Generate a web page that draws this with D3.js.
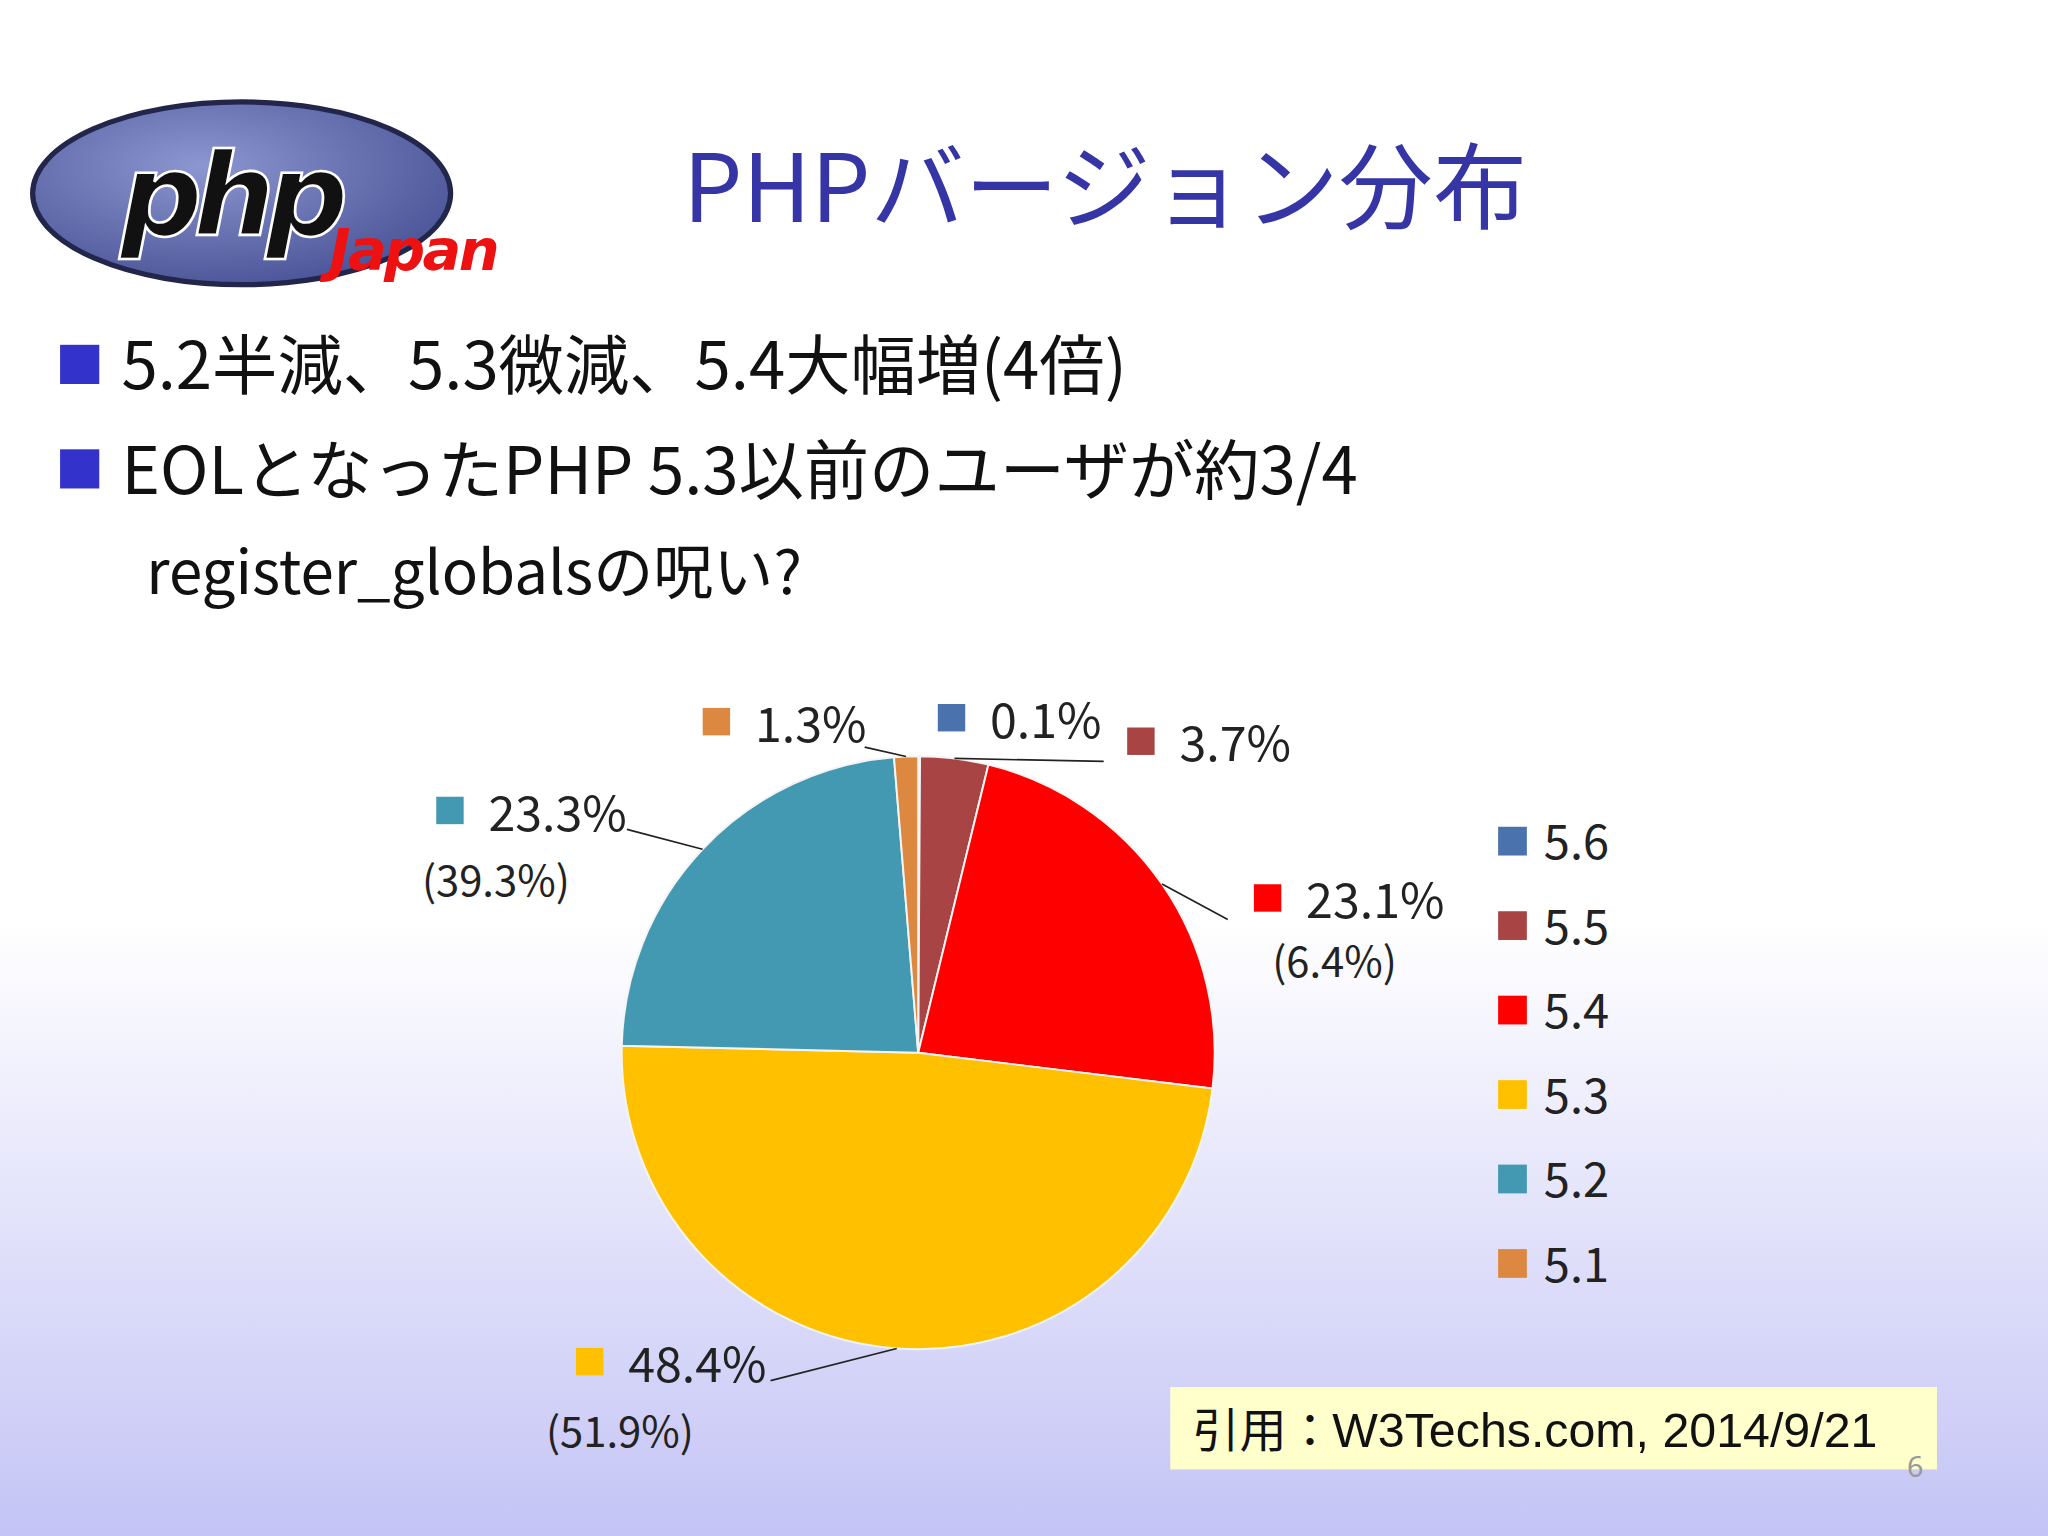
<!DOCTYPE html>
<meta charset="utf-8">
<script src="https://d3js.org/d3.v7.min.js"></script>
<style>body{margin:0;overflow:hidden}</style>
<svg id="chart" width="2048" height="1536" viewBox="0 0 1568 1176"></svg>
<script>
  const versions = ["5.6", "5.5", "5.4", "5.3", "5.2", "5.1"];
  const shares = [0.1, 3.7, 23.1, 48.4, 23.3, 1.3];
  const previous = [null, null, "(6.4%)", "(51.9%)", "(39.3%)", null];
  const colors = ["#4a72ac", "#a84444", "#ff0000", "#ffc000", "#4299b1", "#dd8840"];
  // label anchor (square left, top) and leader end
  const labelPos = [[718, 539], [863, 557], [960, 677], [441, 1032], [334, 610], [538, 542]];
  const leaderEnd = [null, [845, 583], [940, 704], [590, 1057], [480, 635], [662, 572]];
  const subPos = [null, null, [974, 748], [418, 1108], [323, 686], null];

  const svg = d3.select("#chart");
  const defs = svg.append("defs");
  const bg = defs.append("linearGradient").attr("id", "bg").attr("x1", 0).attr("x2", 0).attr("y1", 0).attr("y2", 1);
  bg.append("stop").attr("offset", "0.6").attr("stop-color", "#ffffff");
  bg.append("stop").attr("offset", "1").attr("stop-color", "#c4c4f6");
  svg.append("rect").attr("width", 1568).attr("height", 1176).attr("fill", "url(#bg)");

  // logo
  const lg = defs.append("radialGradient").attr("id", "logo").attr("cx", "40%").attr("cy", "35%").attr("r", "70%");
  lg.append("stop").attr("offset", 0).attr("stop-color", "#8c96d0");
  lg.append("stop").attr("offset", 1).attr("stop-color", "#4a5396");
  svg.append("ellipse").attr("cx", 185).attr("cy", 148).attr("rx", 160).attr("ry", 70)
    .attr("fill", "url(#logo)").attr("stroke", "#22264a").attr("stroke-width", 4);
  svg.append("text").attr("x", 92).attr("y", 180).attr("font-family", "DejaVu Sans")
    .attr("font-weight", "bold").attr("font-style", "italic").attr("font-size", 88)
    .attr("fill", "#111").attr("stroke", "#fff").attr("stroke-width", 2).attr("letter-spacing", -7).text("php");
  svg.append("text").attr("x", 252).attr("y", 207).attr("font-family", "DejaVu Sans")
    .attr("font-weight", "bold").attr("font-style", "italic").attr("font-size", 44)
    .attr("fill", "#ee1111").attr("letter-spacing", -2).text("Japan");

  svg.append("text").attr("x", 523).attr("y", 170).attr("font-family", "Noto Sans CJK JP")
    .attr("font-size", 72).attr("fill", "#3535a5").text("PHPバージョン分布");

  const bullets = [["5.2半減、5.3微減、5.4大幅増(4倍)", 298], ["EOLとなったPHP 5.3以前のユーザが約3/4", 378]];
  bullets.forEach(([t, y]) => {
    svg.append("rect").attr("x", 46).attr("y", y - 34).attr("width", 30).attr("height", 30).attr("fill", "#3333cc");
    svg.append("text").attr("x", 93).attr("y", y).attr("font-family", "Noto Sans CJK JP")
      .attr("font-size", 50).attr("fill", "#111").text(t);
  });
  svg.append("text").attr("x", 112).attr("y", 455).attr("font-family", "Noto Sans CJK JP")
    .attr("font-size", 46).attr("fill", "#111").text("register_globalsの呪い?");

  // pie
  const cx = 703, cy = 806, r = 227;
  const data = versions.map((v, i) => ({ v, s: shares[i], i }));
  const arcs = d3.pie().sort(null).value(d => d.s)(data);
  const arc = d3.arc().innerRadius(0).outerRadius(r);
  const g = svg.append("g").attr("transform", `translate(${cx},${cy})`);
  g.selectAll("path").data(arcs).join("path").attr("d", arc)
    .attr("fill", d => colors[d.data.i]).attr("stroke", "#f4f4f4").attr("stroke-width", 1.5);
  const edge = d3.arc().innerRadius(r).outerRadius(r);
  arcs.forEach(a => {
    const i = a.data.i;
    const e = leaderEnd[i];
    if (e) {
      const [px, py] = edge.centroid(a);
      svg.append("line").attr("x1", px + cx).attr("y1", py + cy).attr("x2", e[0]).attr("y2", e[1])
        .attr("stroke", "#222").attr("stroke-width", 1.3);
    }
    const [lx, ly] = labelPos[i];
    svg.append("rect").attr("x", lx).attr("y", ly).attr("width", 21).attr("height", 21).attr("fill", colors[i]);
    svg.append("text").attr("x", lx + 40).attr("y", ly + 26).attr("font-family", "Noto Sans CJK JP")
      .attr("font-size", 37).attr("fill", "#222").text(shares[i] + "%");
    if (subPos[i]) {
      svg.append("text").attr("x", subPos[i][0]).attr("y", subPos[i][1]).attr("font-family", "Noto Sans CJK JP")
        .attr("font-size", 32).attr("fill", "#222").text(previous[i]);
    }
  });

  // legend
  const ly = d3.scaleBand().domain(versions).range([630, 1018]);
  versions.forEach((v, i) => {
    const y = ly(v);
    svg.append("rect").attr("x", 1147).attr("y", y + 3).attr("width", 22).attr("height", 22).attr("fill", colors[i]);
    svg.append("text").attr("x", 1182).attr("y", y + 28).attr("font-family", "Noto Sans CJK JP")
      .attr("font-size", 36).attr("fill", "#222").text(v);
  });

  // citation
  svg.append("rect").attr("x", 896).attr("y", 1062).attr("width", 587).attr("height", 63).attr("fill", "#ffffcc");
  svg.append("text").attr("x", 913).attr("y", 1108).attr("font-family", "Noto Sans CJK JP")
    .attr("font-size", 36).attr("fill", "#111").text("引用：");
  svg.append("text").attr("x", 1020).attr("y", 1108).attr("font-family", "Liberation Sans")
    .attr("font-size", 37).attr("fill", "#111").text("W3Techs.com, 2014/9/21");
  svg.append("text").attr("x", 1460).attr("y", 1131).attr("font-family", "Noto Sans")
    .attr("font-size", 22).attr("fill", "#999").text("6");
</script>
